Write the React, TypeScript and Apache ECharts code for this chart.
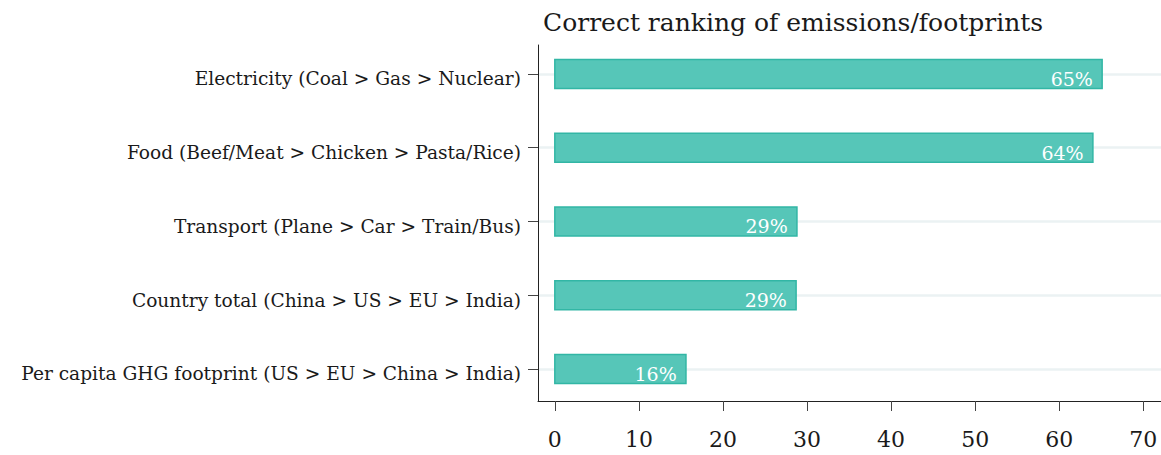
import React, { useEffect, useRef } from "react";
import * as echarts from "echarts";

// Categories listed top to bottom as they appear in the chart
const categories = [
  "Electricity (Coal > Gas > Nuclear)",
  "Food (Beef/Meat > Chicken > Pasta/Rice)",
  "Transport (Plane > Car > Train/Bus)",
  "Country total (China > US > EU > India)",
  "Per capita GHG footprint (US > EU > China > India)",
];
const shares = [65.1, 64.0, 28.8, 28.7, 15.6];
const xTicks = [0, 10, 20, 30, 40, 50, 60, 70];
const titleText = "Correct ranking of emissions/footprints";

const FONT = "DejaVu Serif";
const FILL = "#56c6b8";
const STROKE = "#32b6a5";

export default function App() {
  const ref = useRef<HTMLDivElement>(null);

  useEffect(() => {
    if (!ref.current) return;
    const chart = echarts.init(ref.current, null, { renderer: "svg" });
    const n = categories.length;
    // y index: bottom category = 0
    const yIndexOf = (i: number) => n - 1 - i;
    const yValues = categories.map((_, i) => yIndexOf(i)).sort((a, b) => a - b);
    const labelFor = (v: number) => {
      const i = n - 1 - Math.round(v);
      return categories[i] ?? "";
    };
    const data = shares.map((v, i) => [v, yIndexOf(i)]);

    chart.setOption({
      animation: false,
      title: {
        text: titleText,
        left: 543,
        top: 10,
        padding: 0,
        textStyle: { fontFamily: FONT, fontSize: 25, fontWeight: "normal", color: "#1a1a1a" },
      },
      grid: { left: 538, right: 0, top: 45, bottom: 54, containLabel: false },
      xAxis: {
        type: "value",
        min: -2,
        max: 72.1,
        axisLine: { show: true, onZero: false, lineStyle: { color: "#222", width: 1 } },
        axisTick: { show: true, length: 10, customValues: xTicks, lineStyle: { color: "#444", width: 1 } },
        axisLabel: {
          customValues: xTicks,
          fontFamily: FONT,
          fontSize: 22,
          color: "#1a1a1a",
          margin: 27,
        },
        splitLine: { show: false },
      },
      yAxis: {
        type: "value",
        min: -0.434,
        max: 4.393,
        axisLine: { show: true, onZero: false, lineStyle: { color: "#222", width: 1 } },
        axisTick: { show: true, length: 10, customValues: yValues, lineStyle: { color: "#444", width: 1 } },
        axisLabel: {
          customValues: yValues,
          formatter: (v: number) => labelFor(v),
          fontFamily: FONT,
          fontSize: 18.6,
          color: "#1a1a1a",
          margin: 17,
          verticalAlign: "top",
          lineHeight: 10,
        },
        splitLine: { show: true, lineStyle: { color: "#ebf2f3", width: 2.5 } },
      },
      series: [
        {
          type: "custom",
          data,
          encode: { x: 0, y: 1 },
          renderItem: (params: any, api: any) => {
            const v = api.value(0);
            const idx = api.value(1);
            const start = api.coord([0, idx]);
            const end = api.coord([v, idx]);
            const h = api.size([0, 0.393])[1];
            return {
              type: "rect",
              shape: { x: start[0], y: start[1] - h / 2, width: end[0] - start[0], height: h },
              style: { fill: FILL, stroke: STROKE, lineWidth: 1.5 },
              textContent: {
                type: "text",
                style: {
                  text: Math.round(v) + "%",
                  fill: "#ffffff",
                  fontFamily: FONT,
                  fontSize: 19,
                },
              },
              textConfig: { position: "insideRight", distance: 10, offset: [0, 5] },
            };
          },
        },
      ],
    });
    return () => chart.dispose();
  }, []);

  return (
    <div
      ref={ref}
      style={{ position: "fixed", left: 0, top: 0, width: 1161, height: 455, background: "#fff" }}
    />
  );
}
